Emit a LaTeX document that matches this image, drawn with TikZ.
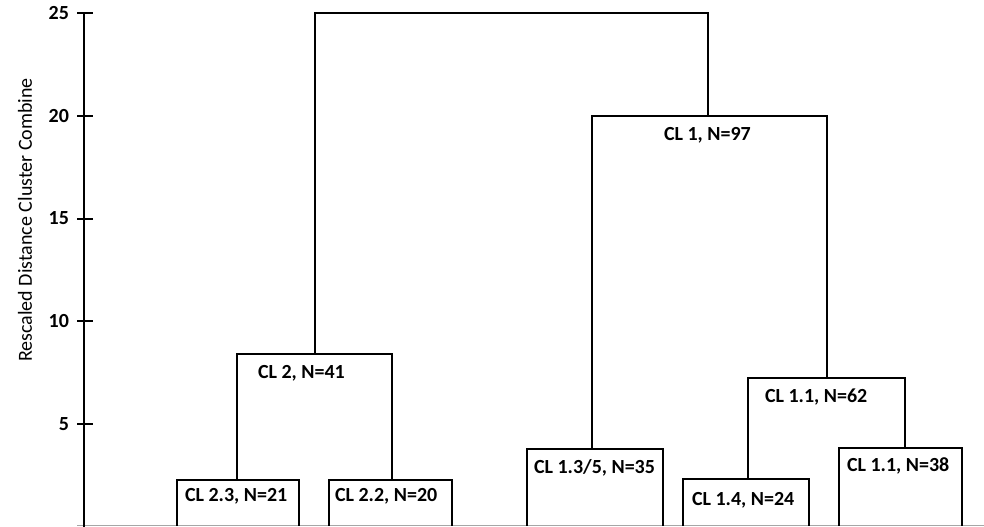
\documentclass[tikz,border=0pt]{standalone}
\usepackage{fontspec}
\setmainfont{Carlito}
\begin{document}
\begin{tikzpicture}[x=0.5pt, y=10.28pt, line width=1pt,
    lbl/.style={font=\bfseries\fontsize{10}{12}\selectfont, inner sep=0pt, anchor=west},
    tick/.style={font=\bfseries\fontsize{10}{12}\selectfont, inner sep=0pt, anchor=east}]
    \useasboundingbox (0,0) rectangle (984,25.63);

    % axis
    \coordinate (base) at (0,0.06);
    \coordinate (ax-top) at (84,25);
    \draw[gray!70, line width=0.7pt] (77,0.06) -- (984,0.06);
    \draw (ax-top) -- (ax-top |- 0,0);
    \foreach \v in {5,10,15,20,25} {
        \draw (77,\v) -- (93,\v);
        \node[tick] (tk\v) at (70,\v) {\v};
    }
    \node[rotate=90, font=\fontsize{10}{12}\selectfont] (ytitle) at (25,14.93) {Rescaled Distance Cluster Combine};

    % cluster corners
    \coordinate (c0-l) at (315,25);     \coordinate (c0-r) at (708,25);
    \coordinate (c1-l) at (592,20);     \coordinate (c1-r) at (827,20);
    \coordinate (c2-l) at (237,8.41);   \coordinate (c2-r) at (392,8.41);
    \coordinate (c11-l) at (748,7.25);  \coordinate (c11-r) at (905,7.25);
    \coordinate (c23-l) at (177,2.29);  \coordinate (c23-r) at (299,2.29);
    \coordinate (c22-l) at (329,2.29);  \coordinate (c22-r) at (452,2.29);
    \coordinate (c135-l) at (527,3.79); \coordinate (c135-r) at (663,3.79);
    \coordinate (c14-l) at (683,2.33);  \coordinate (c14-r) at (809,2.33);
    \coordinate (c38-l) at (839,3.84);  \coordinate (c38-r) at (962,3.84);

    % leaves
    \foreach \c in {c23,c22,c135,c14,c38}
        \draw (\c-l |- base) -- (\c-l) -- (\c-r) -- (\c-r |- base);

    % merges
    \draw (c0-l |- c2-l) -- (c0-l) -- (c0-r) -- (c0-r |- c1-l);
    \draw (c1-l |- c135-l) -- (c1-l) -- (c1-r) -- (c1-r |- c11-l);
    \draw (c2-l |- c23-l) -- (c2-l) -- (c2-r) -- (c2-r |- c22-l);
    \draw (c11-l |- c14-l) -- (c11-l) -- (c11-r) -- (c11-r |- c38-l);

    % labels
    \node[lbl] (t1) at (663,19.07) {CL 1, N=97};
    \node[lbl] (t2) at (257,7.49) {CL 2, N=41};
    \node[lbl] (t11) at (764,6.32) {CL 1.1, N=62};
    \node[lbl] (t23) at (184,1.51) {CL 2.3, N=21};
    \node[lbl] (t22) at (334,1.51) {CL 2.2, N=20};
    \node[lbl] (t135) at (533,2.87) {CL 1.3/5, N=35};
    \node[lbl] (t14) at (691,1.31) {CL 1.4, N=24};
    \node[lbl] (t38) at (846,2.97) {CL 1.1, N=38};
\end{tikzpicture}
\end{document}
